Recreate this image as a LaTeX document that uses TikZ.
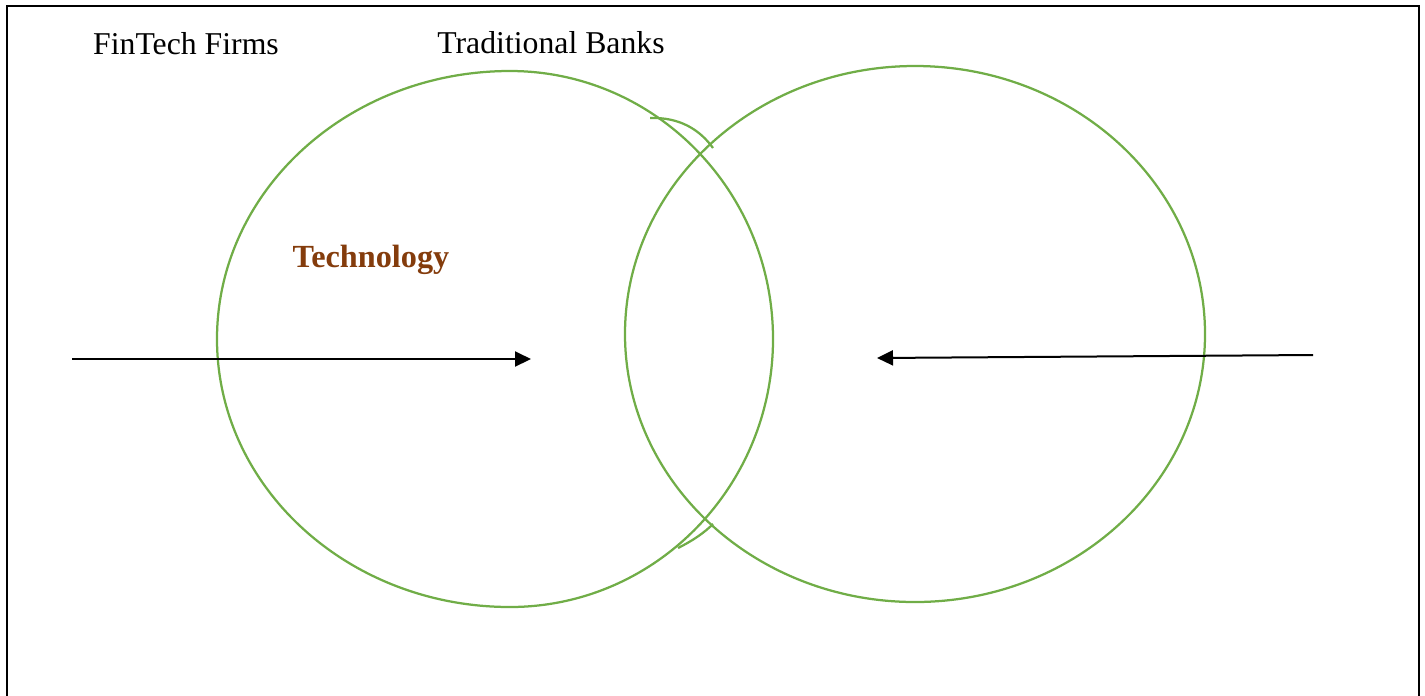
\documentclass[tikz,border=0pt]{standalone}
\usepackage{fontspec}
\setmainfont{Liberation Serif}
\usepackage{tikz}
\usetikzlibrary{arrows.meta}

\definecolor{ringgreen}{RGB}{112,173,71}
\definecolor{techbrown}{RGB}{132,60,12}

\begin{document}
\begin{tikzpicture}[x=0.4pt,y=-0.4pt,>={Triangle[length=6.4pt,width=6pt]}]
	\tikzstyle{ring}=[draw=ringgreen, line width=0.9pt]
	\tikzstyle{push}=[->, line width=0.8pt, black]
	\tikzstyle{caption}=[font=\fontsize{12.7}{15}\selectfont, inner sep=0pt]

	\useasboundingbox (0,0) rectangle (1425,695);
	\draw[line width=0.8pt] (7,700) -- (7,6) -- (1419,6) -- (1419,700);

	% left set, drawn freehand: a little wider on its left side
	\coordinate (fintop) at (510,71);
	\coordinate (finright) at (773,339);
	\coordinate (finbot) at (510,607);
	\coordinate (finleft) at (217,339);
	\draw[ring] (fintop) .. controls (655,71) and (773,191) .. (finright)
		.. controls (773,487) and (655,607) .. (finbot)
		.. controls (348,607) and (217,487) .. (finleft)
		.. controls (217,191) and (348,71) .. (fintop);

	% right set
	\coordinate (bank) at (915,334);
	\draw[ring] (bank) ellipse [x radius=290, y radius=268];

	% stray strokes along the overlap
	\coordinate (topa) at (650,118);
	\coordinate (topb) at (713,148);
	\coordinate (bota) at (678,548);
	\coordinate (botb) at (713,524);
	\draw[ring] (topa) .. controls (680,117) and (700,130) .. (topb);
	\draw[ring] (bota) .. controls (694,540) and (705,532) .. (botb);

	\node[caption] (fintech) at (186,44) {FinTech Firms};
	\node[caption] (banks) at (551,43) {Traditional Banks};
	\node[caption, text=techbrown, font=\fontsize{12.9}{15}\selectfont\bfseries] (tech) at (371,260) {Technology};

	% arrows pointing into the overlap
	\coordinate (fstart) at (72,359);
	\coordinate (fend) at (531,359);
	\coordinate (bstart) at (1313,355);
	\coordinate (bend) at (877,358);
	\draw[push] (fstart) -- (fend);
	\draw[push] (bstart) -- (bend);
\end{tikzpicture}
\end{document}
